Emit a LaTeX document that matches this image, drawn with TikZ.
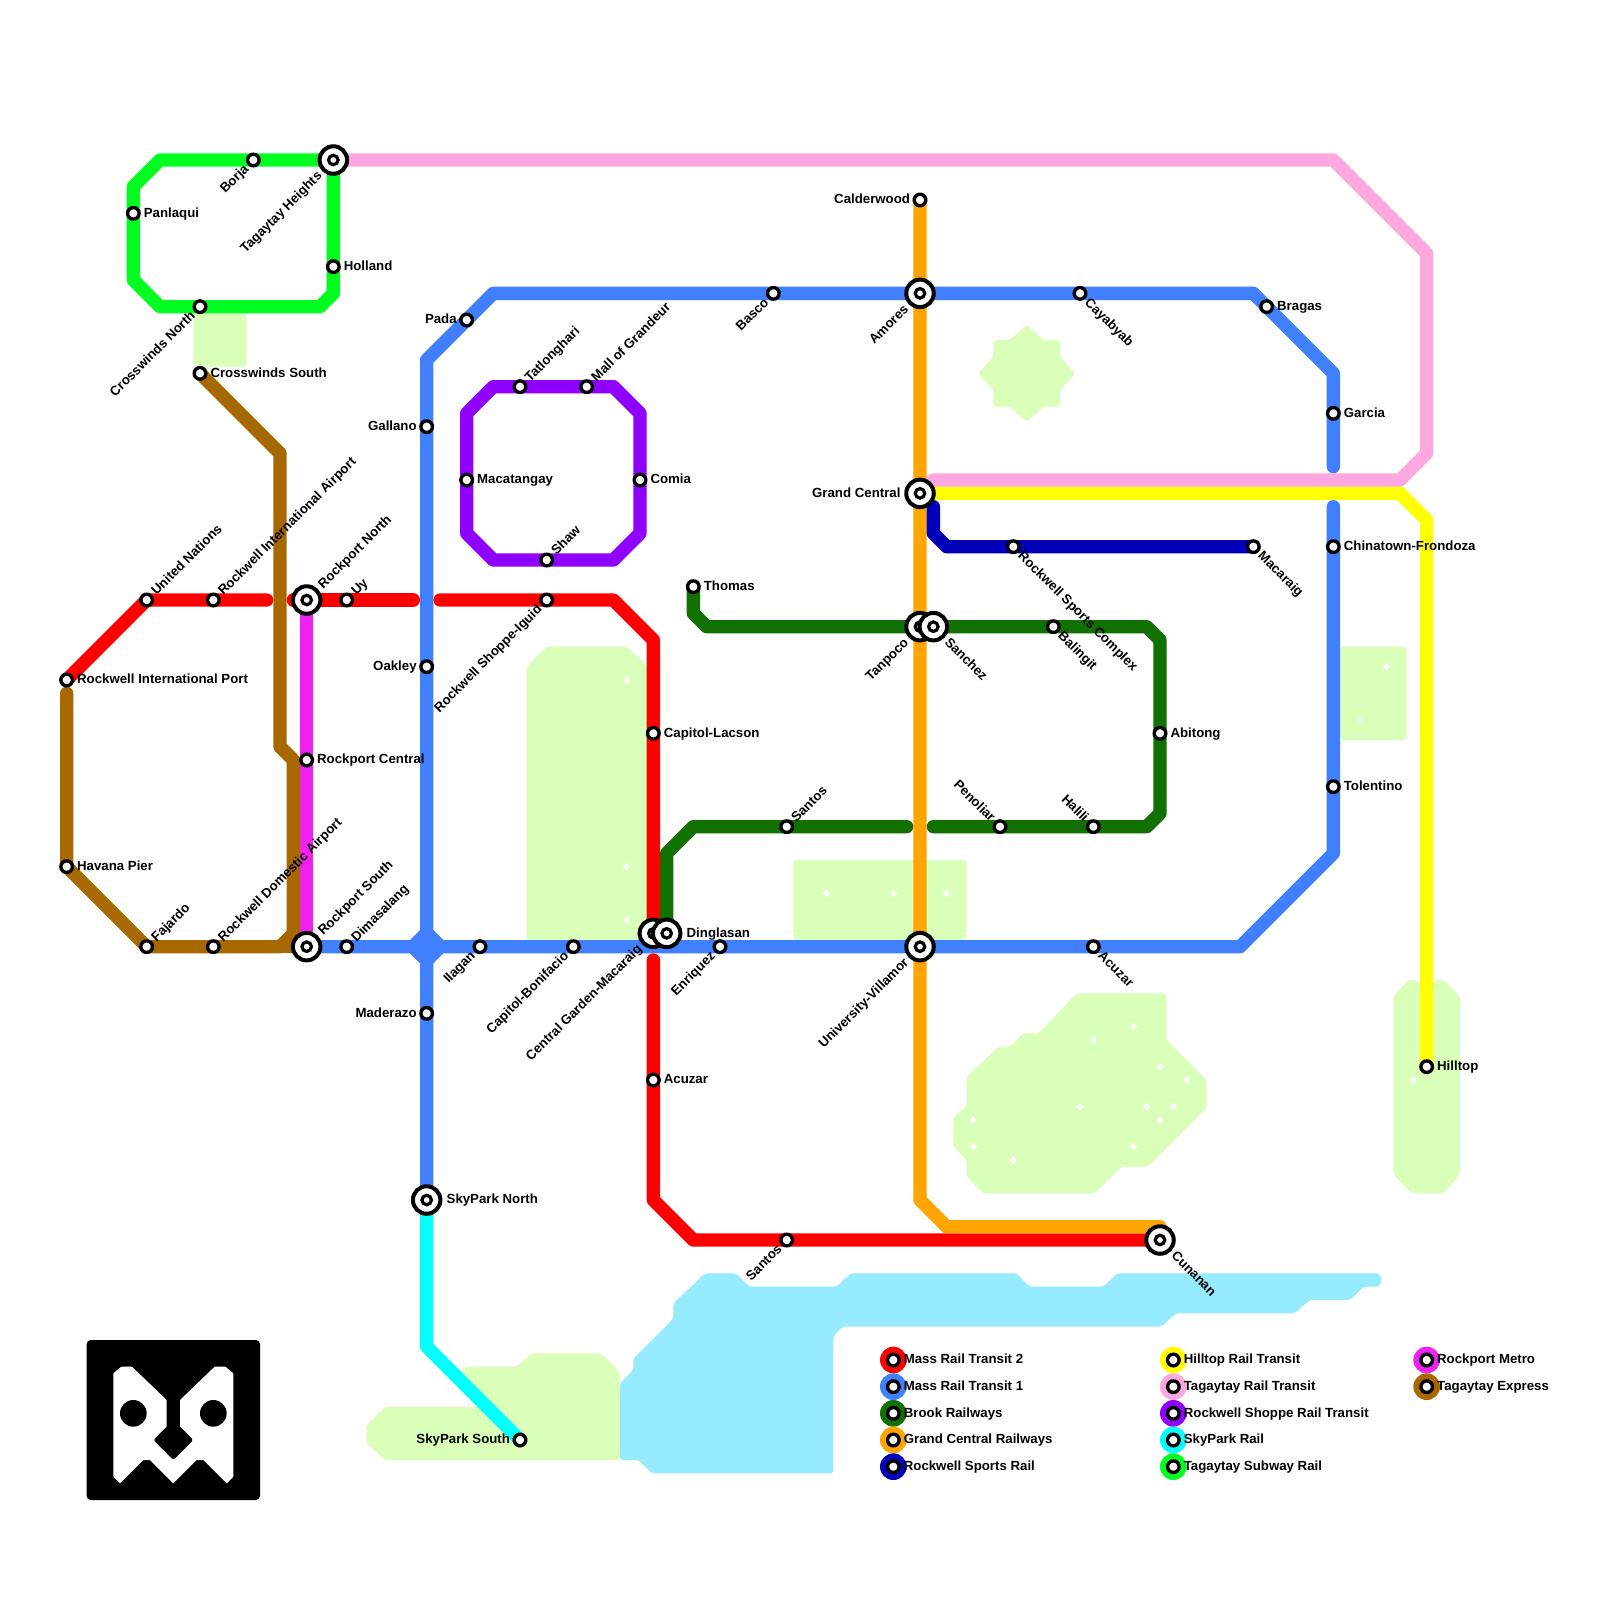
\documentclass[tikz,border=0pt]{standalone}
\usepackage{fontspec}
\setmainfont{Liberation Sans}
\pgfdeclarelayer{parks}
\pgfdeclarelayer{lines}
\pgfsetlayers{parks,lines,main}
\definecolor{parkc}{HTML}{D9FFB8}
\definecolor{waterc}{HTML}{96EBFF}
\definecolor{mrtwo}{HTML}{FF0000}
\definecolor{mrone}{HTML}{4080FF}
\definecolor{brook}{HTML}{107000}
\definecolor{gcr}{HTML}{FFA500}
\definecolor{rsr}{HTML}{0000B8}
\definecolor{hrt}{HTML}{FFFF00}
\definecolor{trt}{HTML}{FFA8E0}
\definecolor{rsrt}{HTML}{9000FF}
\definecolor{sky}{HTML}{00FFFF}
\definecolor{tsr}{HTML}{00FF20}
\definecolor{rpm}{HTML}{F020F0}
\definecolor{tex}{HTML}{A86800}
\newcommand{\lblfont}{\bfseries\fontsize{13.25}{15}\selectfont}
\tikzset{
 ln/.style={line width=13.333pt,line cap=round,line join=round},
 parkst/.style={fill=parkc,rounded corners=3pt},
 waterst/.style={fill=waterc,rounded corners=3pt},
 stnring/.style={circle,draw=black,fill=white,line width=3.4pt,minimum size=11.6pt,inner sep=0pt,outer sep=0pt},
 istnring/.style={circle,draw=black,fill=white,line width=4pt,minimum size=27.5pt,inner sep=0pt,outer sep=0pt},
 icore/.style={circle,draw=black,fill=white,line width=3.2pt,minimum size=9.5pt,inner sep=0pt,outer sep=0pt},
 lbl/.style={font=\lblfont,inner sep=0pt,outer sep=0pt,text=black},
 lR/.style={lbl,anchor=base west,xshift=10.5pt,yshift=-3.9pt},
 lL/.style={lbl,anchor=base east,xshift=-10pt,yshift=-3.9pt},
 lUR/.style={lbl,rotate=45,anchor=base west,xshift=10pt,yshift=-4.2pt},
 lDR/.style={lbl,rotate=-45,anchor=base west,xshift=10pt,yshift=-4.2pt},
 lDL/.style={lbl,rotate=45,anchor=base east,xshift=-10pt,yshift=-4.2pt},
 lUL/.style={lbl,rotate=-45,anchor=base east,xshift=-10pt,yshift=-4.2pt},
 iR/.style={lbl,anchor=base west,xshift=20pt,yshift=-3.9pt},
 iL/.style={lbl,anchor=base east,xshift=-19.5pt,yshift=-3.9pt},
 iUR/.style={lbl,rotate=45,anchor=base west,xshift=19.5pt,yshift=-4.2pt},
 iDR/.style={lbl,rotate=-45,anchor=base west,xshift=19.5pt,yshift=-4.2pt},
 iDL/.style={lbl,rotate=45,anchor=base east,xshift=-19.5pt,yshift=-4.2pt},
 legmark/.style={circle,inner sep=0pt,outer sep=0pt,minimum size=26.67pt},
}
\newcommand{\stnode}[4]{\node[stnring] (#1) at (#2) {};\node[#3] (#1-l) at (#2) {#4};}
\newcommand{\ichange}[4]{\node[istnring] (#1) at (#2) {};\node[icore] (#1-c) at (#2) {};\node[#3] (#1-l) at (#2) {#4};}
\newcommand{\legitem}[4]{\node[legmark,fill=#3] (#1) at (#2) {};\node[stnring] (#1-s) at (#2) {};\node[lR] (#1-l) at (#2) {#4};}
\begin{document}
\begin{tikzpicture}[x=13.3333pt,y=-13.3333pt]
\useasboundingbox (0,0) rectangle (120,120);
% ---------- stations ----------
\stnode{borja}{19,12}{lDL}{Borja}
\stnode{panlaqui}{10,16}{lR}{Panlaqui}
\stnode{holland}{25,20}{lR}{Holland}
\stnode{crossn}{15,23}{lDL}{Crosswinds North}
\stnode{crosss}{15,28}{lR}{Crosswinds South}
\stnode{unations}{11,45}{lUR}{United Nations}
\stnode{rip}{5,51}{lR}{Rockwell International Port}
\stnode{riap}{16,45}{lUR}{Rockwell International Airport}
\stnode{uy}{26,45}{lUR}{Uy}
\stnode{rpcentral}{23,57}{lR}{Rockport Central}
\stnode{rdap}{16,71}{lUR}{Rockwell Domestic Airport}
\stnode{dimasalang}{26,71}{lUR}{Dimasalang}
\stnode{havana}{5,65}{lR}{Havana Pier}
\stnode{fajardo}{11,71}{lUR}{Fajardo}
\stnode{pada}{35,24}{lL}{Pada}
\stnode{gallano}{32,32}{lL}{Gallano}
\stnode{oakley}{32,50}{lL}{Oakley}
\stnode{maderazo}{32,76}{lL}{Maderazo}
\stnode{skysouth}{39,108}{lL}{SkyPark South}
\stnode{ilagan}{36,71}{lDL}{Ilagan}
\stnode{capbon}{43,71}{lDL}{Capitol-Bonifacio}
\stnode{enriquez}{54,71}{lDL}{Enriquez}
\stnode{tatlong}{39,29}{lUR}{Tatlonghari}
\stnode{mall}{44,29}{lUR}{Mall of Grandeur}
\stnode{macat}{35,36}{lR}{Macatangay}
\stnode{comia}{48,36}{lR}{Comia}
\stnode{shaw}{41,42}{lUR}{Shaw}
\stnode{iguid}{41,45}{lDL}{Rockwell Shoppe-Iguid}
\stnode{caplac}{49,55}{lR}{Capitol-Lacson}
\stnode{acuzarw}{49,81}{lR}{Acuzar}
\stnode{santoss}{59,93}{lDL}{Santos}
\stnode{thomas}{52,44}{lR}{Thomas}
\stnode{santosn}{59,62}{lUR}{Santos}
\stnode{basco}{58,22}{lDL}{Basco}
\stnode{calder}{69,15}{lL}{Calderwood}
\stnode{cayab}{81,22}{lDR}{Cayabyab}
\stnode{bragas}{95,23}{lR}{Bragas}
\stnode{garcia}{100,31}{lR}{Garcia}
\stnode{chinat}{100,41}{lR}{Chinatown-Frondoza}
\stnode{tolent}{100,59}{lR}{Tolentino}
\stnode{macaraig}{94,41}{lDR}{Macaraig}
\stnode{sportsc}{76,41}{lDR}{Rockwell Sports Complex}
\stnode{balingit}{79,47}{lDR}{Balingit}
\stnode{abitong}{87,55}{lR}{Abitong}
\stnode{halili}{82,62}{lUL}{Halili}
\stnode{penoliar}{75,62}{lUL}{Penoliar}
\stnode{acuzare}{82,71}{lDR}{Acuzar}
\stnode{hilltop}{107,80}{lR}{Hilltop}
% ---------- interchanges ----------
\ichange{tagh}{25,12}{iDL}{Tagaytay Heights}
\ichange{rpnorth}{23,45}{iUR}{Rockport North}
\ichange{rpsouth}{23,71}{iUR}{Rockport South}
\ichange{amores}{69,22}{iDL}{Amores}
\ichange{grandc}{69,37}{iL}{Grand Central}
\ichange{tanpoco}{69,47}{iDL}{Tanpoco}
\ichange{sanchez}{70,47}{iDR}{Sanchez}
\ichange{univ}{69,71}{iDL}{University-Villamor}
\ichange{cgm}{49,70}{iDL}{Central Garden-Macaraig}
\ichange{dinglasan}{50,70}{iR}{Dinglasan}
\ichange{skynorth}{32,90}{iR}{SkyPark North}
\ichange{cunanan}{87,93}{iDR}{Cunanan}
% ---------- legend ----------
\legitem{la}{67,102}{mrtwo}{Mass Rail Transit 2}
\legitem{lb}{67,104}{mrone}{Mass Rail Transit 1}
\legitem{lc}{67,106}{brook}{Brook Railways}
\legitem{ld}{67,108}{gcr}{Grand Central Railways}
\legitem{le}{67,110}{rsr}{Rockwell Sports Rail}
\legitem{lf}{88,102}{hrt}{Hilltop Rail Transit}
\legitem{lg}{88,104}{trt}{Tagaytay Rail Transit}
\legitem{lh}{88,106}{rsrt}{Rockwell Shoppe Rail Transit}
\legitem{li}{88,108}{sky}{SkyPark Rail}
\legitem{lj}{88,110}{tsr}{Tagaytay Subway Rail}
\legitem{lk}{107,102}{rpm}{Rockport Metro}
\legitem{ll}{107,104}{tex}{Tagaytay Express}
% ---------- parks, water, logo ----------
\begin{pgfonlayer}{parks}
\fill[white] (0,0) rectangle (120,120);
\path[parkst] (14.5,23.5) rectangle (18.5,27.5);
\path[parkst] (39.5,50) -- (41,48.5) -- (47,48.5) -- (48.6,50) -- (48.6,70.5) -- (39.5,70.5) -- cycle;
\path[parkst] (77,24.35) -- (78.25,25.5) -- (79.5,25.5) -- (79.5,26.75) -- (80.65,28) -- (79.5,29.25) -- (79.5,30.5) -- (78.25,30.5) -- (77,31.65) -- (75.75,30.5) -- (74.5,30.5) -- (74.5,29.25) -- (73.35,28) -- (74.5,26.75) -- (74.5,25.5) -- (75.75,25.5) -- cycle;
\path[parkst] (100.5,48.5) rectangle (105.5,55.5);
\path[parkst] (59.5,64.5) rectangle (72.5,70.5);
\path[parkst] (80.75,74.5) -- (87.5,74.5) -- (87.5,78) -- (90.5,81) -- (90.5,83.1) -- (86.1,87.5) -- (84.1,87.5) -- (82.1,89.5) -- (73.75,89.5) -- (72.5,88.25) -- (72.5,87) -- (71.5,86) -- (71.5,83.75) -- (72.5,83) -- (72.5,80.75) -- (74.9,78.5) -- (75.75,78.5) -- (76.75,77.5) -- (77.9,77.5) -- cycle;
\path[parkst] (104.5,74.75) -- (105.6,73.5) -- (106.25,73.5) -- (107,74.25) -- (107.6,73.5) -- (108.25,73.5) -- (109.5,74.75) -- (109.5,88.1) -- (108.25,89.5) -- (105.9,89.5) -- (104.5,88.1) -- cycle;
\path[parkst] (28.9,105.5) -- (36.5,105.5) -- (34.5,103) -- (34.9,102.5) -- (38.75,102.5) -- (39.9,101.5) -- (45.1,101.5) -- (46.5,102.9) -- (46.5,109.5) -- (28.9,109.5) -- (27.5,108.25) -- (27.5,106.9) -- cycle;
\path[waterst] (52.9,95.5) -- (55.2,95.5) -- (56.2,96.5) -- (62.75,96.5) -- (63.8,95.5) -- (76.25,95.5) -- (77.2,96.5) -- (82.75,96.5) -- (83.8,95.5) -- (103,95.5) .. controls (103.7,95.5) and (103.7,96.5) .. (103,96.5) -- (102.25,96.5) -- (101.25,97.5) -- (98.2,97.5) -- (97.1,98.5) -- (88.2,98.5) -- (87.1,99.5) -- (63.2,99.5) -- (62.5,100.2) -- (62.5,110.5) -- (48.9,110.5) -- (47.9,109.5) -- (46.5,109.5) -- (46.5,103.75) -- (47.5,102.75) -- (47.5,101.9) -- (50.5,98.9) -- (50.5,97.75) -- cycle;
\foreach \px/\py in {47/51,47/65,47/69,104/50,102/54,62/67,67/67,71/67,85/77,82/78,87/80,89/81,81/83,86/83,88/83,87/84,73/84,73/86,85/86,76/87,106/81}
  \fill[white] (\px,\py) +(-.27,0) -- +(0,-.27) -- +(.27,0) -- +(0,.27) -- cycle;
% logo
\path[fill=black,rounded corners=4pt] (6.5,100.5) rectangle (19.5,112.5);
\path[fill=white,rounded corners=0.6pt] (8.5,103) -- (9.1,102.5) -- (9.9,102.5) -- (12.5,105) -- (12.5,107.5) -- (13.5,107.5) -- (13.5,105) -- (16.1,102.5) -- (16.9,102.5) -- (17.5,103) -- (17.5,110.75) -- (17,111.25) -- (15.25,109.5) -- (14.75,109.5) -- (13,111.25) -- (11.25,109.5) -- (10.75,109.5) -- (9,111.25) -- (8.5,110.75) -- cycle;
\fill[black] (10,106) circle (1);
\fill[black] (16,106) circle (1);
\path[fill=black,rounded corners=2.5pt] (13,106.5) -- (14.5,108) -- (13,109.5) -- (11.5,108) -- cycle;
\end{pgfonlayer}
% ---------- lines ----------
\begin{pgfonlayer}{lines}
\draw[ln,mrtwo] (rip.center) -- (unations.center) -- (20,45);
\draw[ln,mrtwo] (22,45) -- (31,45);
\draw[ln,mrtwo] (33,45) -- (46,45) -- (49,48) -- (cgm.center);
\draw[ln,mrtwo] (49,72) -- (49,90) -- (52,93) -- (cunanan.center);
\draw[ln,mrone] (rpsouth.center) -- (93,71) -- (100,64) -- (100,38);
\draw[ln,mrone] (100,35) -- (100,28) -- (94,22) -- (37,22) -- (32,27) -- (skynorth.center);
\fill[mrone] (31.5,69.75) -- (32.5,69.75) -- (33.25,70.5) -- (33.25,71.5) -- (32.5,72.25) -- (31.5,72.25) -- (30.75,71.5) -- (30.75,70.5) -- cycle;
\draw[ln,brook] (thomas.center) -- (52,46) -- (53,47) -- (86,47) -- (87,48) -- (87,61) -- (86,62) -- (70,62);
\draw[ln,brook] (68,62) -- (52,62) -- (50,64) -- (dinglasan.center);
\draw[ln,gcr] (calder.center) -- (69,90) -- (71,92) -- (87,92) -- (cunanan.center);
\draw[ln,rsr] (70,38) -- (70,40) -- (71,41) -- (macaraig.center);
\draw[ln,hrt] (grandc.center) -- (105,37) -- (107,39) -- (hilltop.center);
\draw[ln,trt] (tagh.center) -- (100,12) -- (107,19) -- (107,34) -- (105,36) -- (70,36);
\draw[ln,rsrt] (37,29) -- (46,29) -- (48,31) -- (48,40) -- (46,42) -- (37,42) -- (35,40) -- (35,31) -- cycle;
\draw[ln,sky] (skynorth.center) -- (32,101) -- (skysouth.center);
\draw[ln,tsr] (tagh.center) -- (12,12) -- (10,14) -- (10,21) -- (12,23) -- (24,23) -- (25,22) -- cycle;
\draw[ln,rpm] (rpnorth.center) -- (rpsouth.center);
\draw[ln,tex] (crosss.center) -- (21,34) -- (21,56) -- (22,57) -- (22,70) -- (21,71) -- (11,71) -- (5,65) -- (5,52);
\draw[ln,tex] (21,71) -- (rpsouth.center);
\end{pgfonlayer}
\end{tikzpicture}
\end{document}
